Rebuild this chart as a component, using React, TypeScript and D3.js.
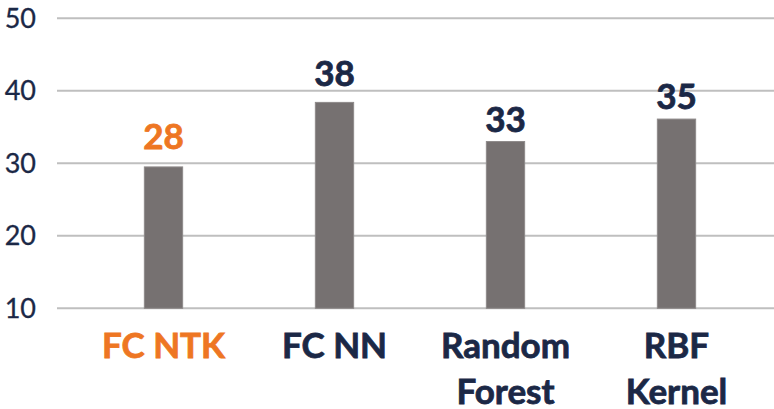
import React from "react";
import * as d3 from "d3";

const categories: string[][] = [["FC NTK"], ["FC NN"], ["Random", "Forest"], ["RBF", "Kernel"]];
const barValues: number[] = [29.5, 38.4, 33.0, 36.1];
const labelValues: string[] = ["28", "38", "33", "35"];
const highlight: boolean[] = [true, false, false, false];
const yTicks: number[] = [10, 20, 30, 40, 50];

const W = 774;
const H = 409;
const NAVY = "#1b2846";
const ORANGE = "#ee7623";
const GRAY = "#767171";
const GRID = "#bfbfbf";
const FONT = "Lato, 'Open Sans', sans-serif";

export default function App() {
  const x = d3
    .scaleBand<number>()
    .domain(d3.range(categories.length))
    .range([78, 762])
    .paddingInner(0.776)
    .paddingOuter(0.388);
  const y = d3.scaleLinear().domain([10, 50]).range([308.3, 18.3]);
  const gridX0 = 57;
  const labelGaps = [18, 16, 10, 10];

  return (
    <svg
      width={W}
      height={H}
      style={{ position: "absolute", left: 0, top: 0, background: "#fff" }}
      fontFamily={FONT}
    >
      {yTicks.map((t) => (
        <g key={t}>
          <line x1={gridX0} x2={W} y1={y(t)} y2={y(t)} stroke={GRID} strokeWidth={2} />
          <text x={36} y={y(t) + 9.5} textAnchor="end" fontSize={27} fill={NAVY} stroke={NAVY} strokeWidth={0.3}>
            {t}
          </text>
        </g>
      ))}
      {barValues.map((v, i) => {
        const bx = x(i)!;
        const bw = x.bandwidth();
        const cx = bx + bw / 2;
        const color = highlight[i] ? ORANGE : NAVY;
        return (
          <g key={i}>
            <rect
              x={bx}
              y={y(v)}
              width={bw}
              height={y(10) - y(v)}
              fill={GRAY}
              stroke="#8e8a8a"
              strokeWidth={1}
            />
            <text
              x={cx}
              y={y(v) - labelGaps[i]}
              textAnchor="middle"
              fontSize={35}
              fontWeight={700}
              fill={color}
              stroke={color}
              strokeWidth={0.8}
            >
              {labelValues[i]}
            </text>
            {categories[i].map((line, j) => (
              <text
                key={j}
                x={cx}
                y={358 + j * 46}
                textAnchor="middle"
                fontSize={35}
                fontWeight={700}
                fill={color}
                stroke={color}
                strokeWidth={0.8}
              >
                {line}
              </text>
            ))}
          </g>
        );
      })}
    </svg>
  );
}
